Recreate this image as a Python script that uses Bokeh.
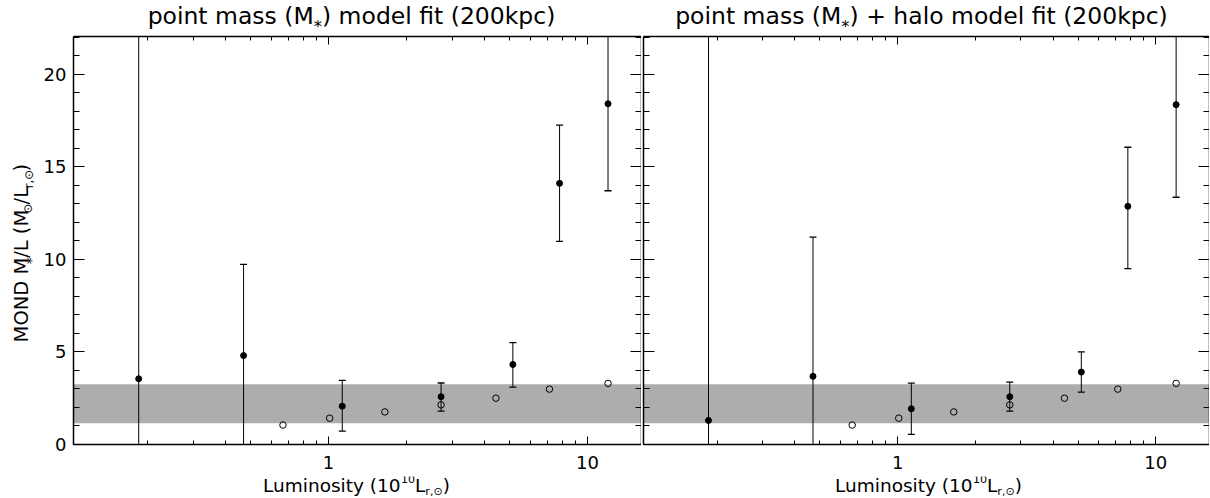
import math
from bokeh.plotting import figure
from bokeh.models import Range1d, LinearAxis, LogAxis, FixedTicker, Label, BoxAnnotation
from bokeh.layouts import row, column
from bokeh.embed import file_html
from bokeh.resources import INLINE

# ---------------- data ----------------
lum_open = [0.667, 1.01, 1.65, 2.72, 4.43, 7.13, 12.0]
ml_open = [1.05, 1.42, 1.76, 2.14, 2.50, 2.99, 3.30]

lum_fit = [0.185, 0.47, 1.13, 2.72, 5.15, 7.8, 12.0]

# panel 1: point mass model
ml_point = [3.55, 4.80, 2.07, 2.58, 4.32, 14.10, 18.40]
ml_point_lo = [-5.0, -5.0, 0.72, 1.80, 3.10, 10.97, 13.70]
ml_point_hi = [30.0, 9.73, 3.46, 3.32, 5.50, 17.24, 30.0]

# panel 2: point mass + halo model
ml_halo = [1.30, 3.68, 1.93, 2.58, 3.91, 12.86, 18.35]
ml_halo_lo = [-5.0, -5.0, 0.55, 1.80, 2.83, 9.50, 13.35]
ml_halo_hi = [30.0, 11.20, 3.31, 3.37, 5.00, 16.05, 30.0]

band = [1.15, 3.25]

x_major = [1, 10]
x_minor = [0.2, 0.3, 0.4, 0.5, 0.6, 0.7, 0.8, 0.9, 2, 3, 4, 5, 6, 7, 8, 9]
y_major = [0, 5, 10, 15, 20]
y_minor = list(range(0, 23))

XLO, XHI = 0.1036, 16.16
YLO, YHI = 0.0, 22.03

TOTAL_W = 1208
TITLE_H, XLAB_H = 34, 21
TOP_B, BOT_B = 2, 32
YLAB_W = 40
FH = 408
FW1, FW2 = 568, 566
FONT = "DejaVu Sans"
BASE_FIX = 0.3   # Bokeh draws "alphabetic" text this many em lower than the anchor
VERT_FIX = 29    # offset of rotated labels along their reading direction

ADV = {" ": 0.318, "(": 0.390, ")": 0.390, "*": 0.500, ",": 0.318, "/": 0.337,
       "D": 0.770, "L": 0.557, "M": 0.863, "N": 0.748, "O": 0.787,
       "a": 0.613, "c": 0.550, "d": 0.635, "e": 0.615, "f": 0.352, "h": 0.634,
       "i": 0.278, "k": 0.579, "l": 0.278, "m": 0.974, "n": 0.634, "o": 0.612,
       "p": 0.635, "r": 0.411, "s": 0.521, "t": 0.392, "u": 0.634, "y": 0.592,
       "+": 0.838, "\u2299": 0.838}
for d in "0123456789":
    ADV[d] = 0.636


def text_width(s, size):
    return sum(ADV.get(c, 0.6) for c in s) * size


def rich_label(p, cx, cy, parts, size, vertical=False):
    total = sum(text_width(t, size * r) for t, r, d in parts)
    pos = -total / 2.0
    for t, r, d in parts:
        fs = size * r
        shift = d * size + BASE_FIX * fs
        if not vertical:
            lab = Label(x=cx + pos, y=cy + shift, text=t, text_font=FONT,
                        text_font_size=f"{fs:.1f}px", text_align="left",
                        text_baseline="alphabetic", text_color="black")
        else:
            lab = Label(x=cx - shift, y=cy + pos - VERT_FIX, text=t, text_font=FONT,
                        text_font_size=f"{fs:.1f}px", text_align="left",
                        text_baseline="alphabetic", text_color="black",
                        angle=math.pi / 2)
        p.add_layout(lab)
        pos += text_width(t, fs)


def text_fig(w, h):
    f = figure(width=w, height=h, x_range=Range1d(0, w), y_range=Range1d(0, h),
               min_border=0, toolbar_location=None, output_backend="svg",
               x_axis_location=None, y_axis_location=None, outline_line_color=None,
               background_fill_color="white", border_fill_color="white")
    f.grid.visible = False
    return f


def style_axis(ax, ticks, minor, tin, mtin, labels, standoff=8):
    ax.ticker = FixedTicker(ticks=ticks, minor_ticks=minor)
    ax.major_tick_in = tin
    ax.major_tick_out = 0
    ax.minor_tick_in = mtin
    ax.minor_tick_out = 0
    ax.axis_line_width = 1.5
    ax.axis_line_color = "black"
    ax.major_tick_line_color = "black"
    ax.minor_tick_line_color = "black"
    ax.major_tick_line_width = 1
    ax.minor_tick_line_width = 1
    ax.axis_label = None
    if labels:
        ax.major_label_text_font = FONT
        ax.major_label_text_font_size = "18px"
        ax.major_label_text_color = "black"
        ax.major_label_standoff = standoff
        ax.major_label_overrides = {t: str(t) for t in ticks}
    else:
        ax.major_label_text_font_size = "0px"
        ax.major_label_standoff = 0
        ax.major_label_overrides = {t: "" for t in ticks}


def make_panel(ml, lo, hi, fw, left_border, ylabels):
    p = figure(x_axis_type="log", x_range=Range1d(XLO, XHI), y_range=Range1d(YLO, YHI),
               frame_width=fw, frame_height=FH, output_backend="svg", toolbar_location=None,
               min_border_left=left_border, min_border_right=0, min_border_top=TOP_B,
               min_border_bottom=BOT_B, background_fill_color="white",
               border_fill_color="white", outline_line_color=None)
    p.grid.visible = False
    top = LogAxis()
    right = LinearAxis()
    p.add_layout(top, "above")
    p.add_layout(right, "right")
    style_axis(p.below[0], x_major, x_minor, 8, 4, True, standoff=11)
    style_axis(top, x_major, x_minor, 8, 4, False)
    style_axis(p.left[0], y_major, y_minor, 11, 6, ylabels, standoff=7)
    style_axis(right, y_major, y_minor, 11, 6, False)

    p.add_layout(BoxAnnotation(bottom=band[0], top=band[1], fill_color="#adadad",
                               fill_alpha=1.0, line_color=None, level="underlay"))

    p.segment(x0=lum_fit, y0=lo, x1=lum_fit, y1=hi, line_color="black", line_width=1)
    p.scatter(x=lum_fit, y=lo, marker="dash", size=7, line_color="black", line_width=1.3)
    p.scatter(x=lum_fit, y=hi, marker="dash", size=7, line_color="black", line_width=1.3)
    p.scatter(x=lum_open, y=ml_open, marker="circle", size=6.5, fill_color=None,
              line_color="black", line_width=1)
    p.scatter(x=lum_fit, y=ml, marker="circle", size=6, fill_color="black",
              line_color="black")
    return p


title1 = [("point mass (M", 1, 0), ("*", 0.7, -0.33), (") model fit (200kpc)", 1, 0)]
title2 = [("point mass (M", 1, 0), ("*", 0.7, -0.33), (") + halo model fit (200kpc)", 1, 0)]
xlabel = [("Luminosity (10", 1, 0), ("10", 0.6, 0.45), ("L", 1, 0),
          ("r,\u2299", 0.6, -0.2), (")", 1, 0)]
ylabel = [("MOND M", 1, 0), ("*", 0.7, -0.4), ("/L (M", 1, 0), ("\u2299", 0.6, -0.2),
          ("/L", 1, 0), ("r,\u2299", 0.6, -0.25), (")", 1, 0)]

p1 = make_panel(ml_point, ml_point_lo, ml_point_hi, FW1, 32, True)
p2 = make_panel(ml_halo, ml_halo_lo, ml_halo_hi, FW2, 2, False)

tfig = text_fig(TOTAL_W, TITLE_H)
rich_label(tfig, 351, 11, title1, 23.5)
rich_label(tfig, 921, 11, title2, 23.5)

ROW_H = TOP_B + FH + BOT_B
yfig = text_fig(YLAB_W, ROW_H)
rich_label(yfig, 27, ROW_H - (TOP_B + FH / 2.0), ylabel, 19.5, vertical=True)

xfig = text_fig(TOTAL_W, XLAB_H)
rich_label(xfig, 356, 6.5, xlabel, 18.5)
rich_label(xfig, 928, 6.5, xlabel, 18.5)

layout = column(tfig, row(yfig, p1, p2), xfig)
open("out.html", "w").write(file_html(layout, INLINE))
